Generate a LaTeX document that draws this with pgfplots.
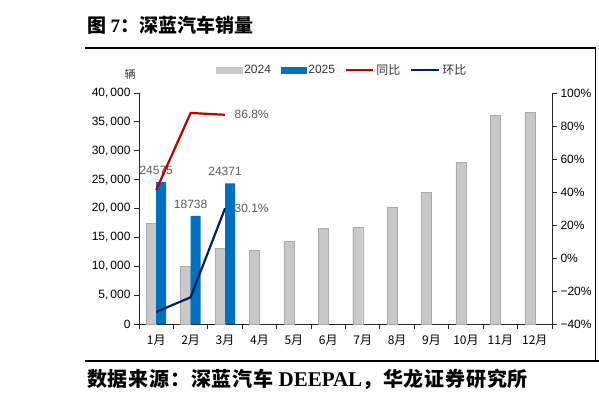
\documentclass[border=0pt]{standalone}
\usepackage{pgfplots}
\pgfplotsset{compat=1.18}
\usepackage{fontspec}
\setmainfont{Liberation Sans}
\newfontfamily\cjk{Noto Sans CJK SC}
\newfontfamily\cjkls[LetterSpace=4]{Noto Sans CJK SC}
\newfontfamily\tnr{Liberation Serif}
\definecolor{bar24}{RGB}{200,200,200}
\definecolor{bar24e}{RGB}{170,170,170}
\definecolor{bar25}{RGB}{0,112,192}
\definecolor{yoy}{RGB}{192,0,0}
\definecolor{mom}{RGB}{0,32,96}
\definecolor{lbl}{RGB}{89,89,89}
\begin{document}
\begin{tikzpicture}[x=1pt,y=1pt]
\useasboundingbox (0,0) rectangle (599,402);
\node[anchor=west, inner sep=0pt, font=\cjk\bfseries\fontsize{19}{19}\selectfont] at (87,377) {图 {\tnr\bfseries 7}：深蓝汽车销量};
\draw[line width=1.2pt] (85,354) -- (595.5,354);
\draw[line width=0.8pt] (595.5,354) -- (595.5,41);
\draw[line width=1.2pt] (85,41) -- (599,41);
\node[anchor=west, inner sep=0pt, font=\cjkls\bfseries\fontsize{20}{20}\selectfont] at (87,23) {数据来源：深蓝汽车\hspace{5pt}{\tnr\bfseries\fontsize{21}{21}\selectfont DEEPAL}，华龙证券研究所};
\node[font=\cjk\fontsize{11}{11}\selectfont, text=black!80] at (130,328) {辆};

\begin{axis}[
  at={(139pt,78pt)}, anchor=south west,
  width=413pt, height=231pt, scale only axis,
  xmin=0.5, xmax=12.5, ymin=0, ymax=40000,
  axis y line*=left, axis x line*=bottom,
  axis line style={line width=0.9pt, black!85},
  every tick/.style={line width=0.9pt, black!85},
  tick align=outside, major tick length=5pt, minor tick length=5pt,
  xtick={1,2,3,4,5,6,7,8,9,10,11,12},
  xticklabels={1月,2月,3月,4月,5月,6月,7月,8月,9月,10月,11月,12月},
  major x tick style={draw=none},
  minor xtick={0.5,1.5,2.5,3.5,4.5,5.5,6.5,7.5,8.5,9.5,10.5,11.5,12.5},
  x tick label style={font=\cjk\fontsize{12}{12}\selectfont, yshift=-3pt},
  scaled y ticks=false,
  ytick={0,5000,10000,15000,20000,25000,30000,35000,40000},
  y tick label style={font=\fontsize{12}{12}\selectfont},
  yticklabel={\pgfmathprintnumber[fixed,precision=0,1000 sep={,\,},assume math mode=true]{\tick}},
  legend columns=4,
  legend cell align=left,
  legend style={at={(0.492,1.10)}, anchor=center, draw=none, fill=none,
    font=\fontsize{12}{12}\selectfont, text=black!80,
    /tikz/every even column/.append style={column sep=8pt}},
]
\addlegendimage{legend image code/.code={\fill[bar24] (0pt,-3pt) rectangle (26pt,3pt);}}
\addlegendentry{2024}
\addlegendimage{legend image code/.code={\fill[bar25] (0pt,-3pt) rectangle (25pt,3pt);}}
\addlegendentry{2025}
\addlegendimage{legend image code/.code={\draw[yoy, line width=2.2pt] (0pt,0pt) -- (27pt,0pt);}}
\addlegendentry{\cjk 同比}
\addlegendimage{legend image code/.code={\draw[mom, line width=2.2pt] (0pt,0pt) -- (28pt,0pt);}}
\addlegendentry{\cjk 环比}

\addplot[ybar, bar width=10pt, bar shift=-5pt, fill=bar24, draw=bar24e, line width=0.4pt, forget plot]
  coordinates {(1,17405) (2,9972) (3,13046) (4,12760) (5,14370) (6,16620) (7,16800) (8,20260) (9,22800) (10,28000) (11,36190) (12,36600)};
\addplot[ybar, bar width=10pt, bar shift=5pt, fill=bar25, draw=none, forget plot,
  nodes near coords={\pgfmathprintnumber[fixed,precision=0,1000 sep={},assume math mode=true]{\pgfplotspointmeta}},
  every node near coord/.append style={font=\fontsize{12}{12}\selectfont, text=lbl, yshift=4pt}]
  coordinates {(1,24575) (2,18738) (3,24371)};
\end{axis}

\begin{axis}[
  at={(139pt,78pt)}, anchor=south west,
  width=413pt, height=231pt, scale only axis,
  xmin=0.5, xmax=12.5, ymin=-40, ymax=100,
  axis y line*=right, axis x line=none,
  axis line style={line width=0.9pt, black!85},
  every tick/.style={line width=0.9pt, black!85},
  tick align=outside, major tick length=5pt,
  ytick={-40,-20,0,20,40,60,80,100},
  yticklabels={−40\%,−20\%,0\%,20\%,40\%,60\%,80\%,100\%},
  y tick label style={font=\fontsize{12}{12}\selectfont},
]
\addplot[yoy, line width=2.2pt, line join=miter] coordinates {(1,41.2) (2,87.9) (3,86.8)};
\addplot[mom, line width=2.2pt] coordinates {(1,-32.7) (2,-23.8) (3,30.1)};
\addplot[draw=none, nodes near coords, point meta=explicit symbolic,
  every node near coord/.append style={anchor=west, xshift=6pt, font=\fontsize{12}{12}\selectfont, text=lbl}]
  coordinates {(3,86.8) [86.8\%] (3,30.1) [30.1\%]};
\end{axis}
\end{tikzpicture}
\end{document}
